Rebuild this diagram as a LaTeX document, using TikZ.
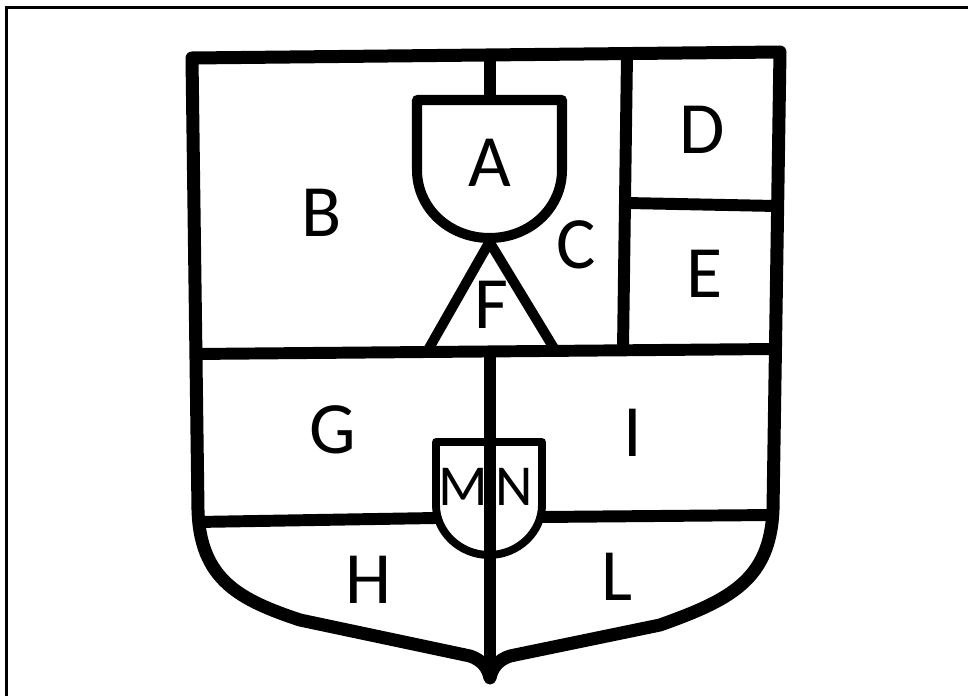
\documentclass[tikz,border=0pt]{standalone}
\usepackage{fontspec}
\setmainfont{Carlito}
\begin{document}
\begin{tikzpicture}[x=0.02cm, y=-0.02cm,
    outline/.style={line width=7.4pt, line join=round},
    divider/.style={line width=6.8pt},
    charge/.style={line width=5.7pt, line join=round},
    lbl/.style={font=\fontsize{42}{42}\selectfont, inner sep=0pt},
    smalllbl/.style={font=\fontsize{33}{33}\selectfont, inner sep=0pt}]
  \useasboundingbox (0,0) rectangle (968,696);

  % frame
  \draw[line width=1.7pt] (6.5,696) -- (6.5,7.5) -- (968,7.5);

  % shield outline
  \draw[outline] (192,58) -- (780,52) -- (773,510)
    .. controls (770,580) and (730,600) .. (660,625) -- (510,656)
    .. controls (498,660) and (492,668) .. (490,678)
    .. controls (488,668) and (482,660) .. (470,656) -- (300,620)
    .. controls (240,600) and (200,580) .. (198,510) -- cycle;

  % upper part
  \draw[divider] (194,354) -- (775,349);
  \draw[divider] (627,55) -- (623,349);
  \draw[divider] (627,203) -- (776,206);
  \draw[divider] (490,55) -- (490,100);

  % A shield and F triangle
  \draw[charge] (417,100) -- (562,100) -- (562,170)
    .. controls (562,208) and (530,238) .. (489.5,238)
    .. controls (449,238) and (417,208) .. (417,170) -- cycle;
  \draw[charge] (428,350) -- (489.5,242) -- (555,350);

  % lower part
  \draw[divider] (490,354) -- (490,666);
  \draw[divider] (197,522) -- (436,518);
  \draw[divider] (542,517) -- (773,515);

  % M-N shield
  \draw[line width=4.5pt, line join=round] (436,442) -- (542,442) -- (542,505)
    .. controls (542,532) and (518,555) .. (489,555)
    .. controls (460,555) and (436,532) .. (436,505) -- cycle;

  % labels
  \node[lbl] (A) at (490,163) {A};
  \node[lbl] (B) at (322,213) {B};
  \node[lbl] (C) at (576,245) {C};
  \node[lbl] (D) at (702,130) {D};
  \node[lbl] (E) at (705,274) {E};
  \node[lbl] (F) at (491,305) {F};
  \node[lbl] (G) at (333,430) {G};
  \node[lbl] (H) at (368,580) {H};
  \node[lbl] (I) at (633,433) {I};
  \node[lbl] (L) at (617,577) {L};
  \node[smalllbl] (M) at (463,487) {M};
  \node[smalllbl] (N) at (514,487) {N};
\end{tikzpicture}
\end{document}
